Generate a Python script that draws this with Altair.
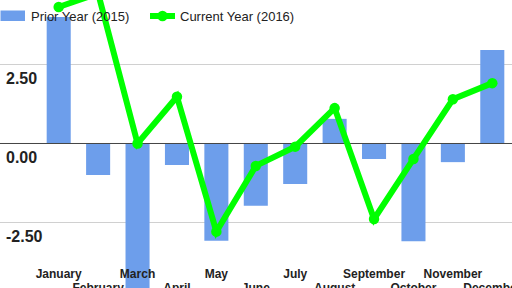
import altair as alt
import pandas as pd

months = ["January", "February", "March", "April", "May", "June", "July",
          "August", "September", "October", "November", "December"]
prior_2015 = [4.0, -1.0, -5.2, -0.68, -3.08, -1.97, -1.28, 0.78, -0.49, -3.09, -0.59, 2.96]
current_2016 = [4.32, 4.75, 0.0, 1.48, -2.79, -0.71, -0.1, 1.12, -2.39, -0.49, 1.40, 1.91]
grid_values = [2.5, -2.5]
tick_values = [2.5, 0.0, -2.5]
tick_labels = ["2.50", "0.00", "-2.50"]

df = pd.DataFrame({"month": months, "prior": prior_2015, "current": current_2016,
                   "i": list(range(len(months)))})
grid_df = pd.DataFrame({"v": grid_values})
ticks_df = pd.DataFrame({"v": tick_values, "label": tick_labels})

FONT = "Liberation Sans"
yscale = alt.Scale(domain=[-4.573, 4.541], nice=False, zero=False)
xscale = alt.Scale(paddingInner=0.39, paddingOuter=0.195)
X = alt.X("month:N", sort=months, scale=xscale, axis=None)

grid = alt.Chart(grid_df).mark_rule(color="#d0d0d0", strokeWidth=1).encode(
    y=alt.Y("v:Q", scale=yscale, axis=None),
    x=alt.value(-39), x2=alt.value(473))

bars = alt.Chart(df).mark_bar(color="#6d9eeb").encode(
    x=X, y=alt.Y("prior:Q", scale=yscale, axis=None))

zero = alt.Chart(pd.DataFrame({"v": [0.0]})).mark_rule(color="#444444", strokeWidth=1).encode(
    y=alt.Y("v:Q", scale=yscale, axis=None),
    x=alt.value(-39), x2=alt.value(473))

line = alt.Chart(df).mark_line(color="#00ff00", strokeWidth=6).encode(
    x=X, y=alt.Y("current:Q", scale=yscale, axis=None))
pts = alt.Chart(df).mark_point(color="#00ff00", filled=True, opacity=1, size=110).encode(
    x=X, y=alt.Y("current:Q", scale=yscale, axis=None))

ylabels = alt.Chart(ticks_df).mark_text(
    font=FONT, fontSize=16, fontWeight="bold", color="#222222",
    align="left", baseline="alphabetic", dy=19.5).encode(
    y=alt.Y("v:Q", scale=yscale, axis=None),
    x=alt.value(-33), text="label:N")

xl_odd = alt.Chart(df).transform_filter("datum.i % 2 == 0").mark_text(
    font=FONT, fontSize=12, fontWeight="bold", color="#222222",
    align="center", baseline="alphabetic").encode(
    x=X, y=alt.value(278), text="month:N")
xl_even = alt.Chart(df).transform_filter("datum.i % 2 == 1").mark_text(
    font=FONT, fontSize=12, fontWeight="bold", color="#222222",
    align="center", baseline="alphabetic").encode(
    x=X, y=alt.value(292), text="month:N")

one = pd.DataFrame({"a": [0]})
leg_rect = alt.Chart(one).mark_rect(color="#6d9eeb").encode(
    x=alt.value(-38.5), x2=alt.value(-14), y=alt.value(10.5), y2=alt.value(21))
leg_t1 = alt.Chart(one).mark_text(font=FONT, fontSize=13, color="#222222",
                                  align="left", baseline="alphabetic").encode(
    x=alt.value(-8), y=alt.value(20.5), text=alt.value("Prior Year (2015)"))
leg_line = alt.Chart(one).mark_rule(color="#00ff00", strokeWidth=6).encode(
    x=alt.value(111), x2=alt.value(136), y=alt.value(16))
leg_pt = alt.Chart(one).mark_point(color="#00ff00", filled=True, opacity=1, size=110).encode(
    x=alt.value(123.5), y=alt.value(16))
leg_t2 = alt.Chart(one).mark_text(font=FONT, fontSize=13, color="#222222",
                                  align="left", baseline="alphabetic").encode(
    x=alt.value(141), y=alt.value(20.5), text=alt.value("Current Year (2016)"))

chart = alt.layer(
    grid, bars, zero, line, pts, ylabels, xl_odd, xl_even,
    leg_rect, leg_t1, leg_line, leg_pt, leg_t2
).properties(
    width=473, height=288,
    padding={"left": 39, "top": 0, "right": 0, "bottom": 0},
    autosize=alt.AutoSizeParams(type="none"),
    background="white",
).configure_view(stroke=None)

chart.save("out.html", embed_options={"renderer": "svg", "actions": False})
